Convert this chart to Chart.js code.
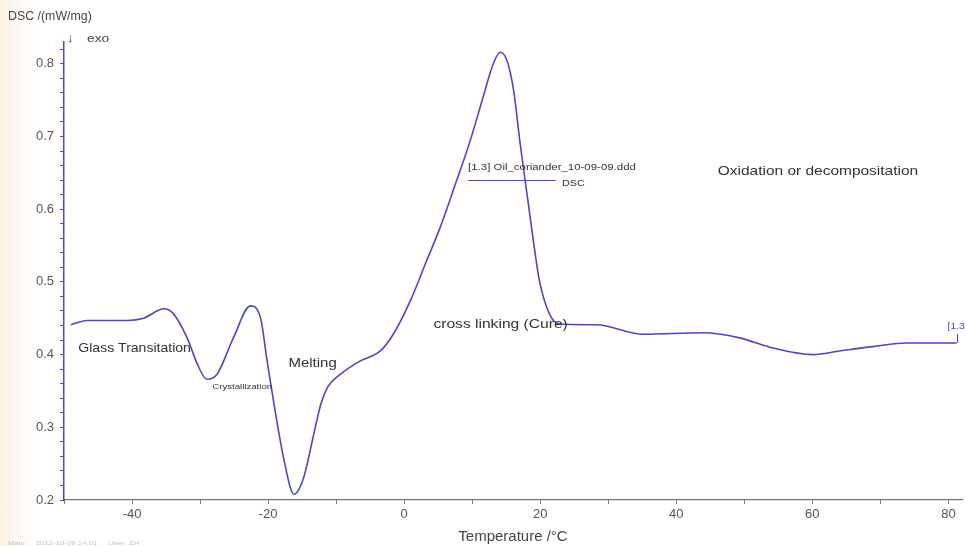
<!DOCTYPE html>
<html>
<head>
<meta charset="utf-8">
<script src="https://cdn.jsdelivr.net/npm/chart.js@4"></script>
<style>
html,body{margin:0;padding:0;background:#fff;}
body{width:965px;height:546px;overflow:hidden;background:linear-gradient(to right,#fbf3e2 0px,#fefbf5 22px,#ffffff 40px);}
#wrap{position:relative;width:965px;height:546px;}
</style>
</head>
<body>
<div id="wrap"><canvas id="c" width="965" height="546"></canvas></div>
<script>
// Temperature (°C)
const temperature = [-49.0,-46.6,-40.7,-38.3,-35.3,-33.9,-31.9,-30.4,-29.0,-27.5,-25.1,-22.6,-21.1,-20.2,-19.2,-17.7,-16.2,-14.8,-13.3,-12.3,-11.2,-9.5,-6.5,-3.5,-1.6,0.9,3.3,5.3,7.7,9.7,11.6,13.1,14.1,15.1,16.1,17.0,18.0,19.0,19.9,21.4,22.9,28.3,35.1,43.9,49.3,54.2,60.1,64.0,68.9,73.9,81.2];
// DSC (mW/mg)
const dsc = [0.441,0.447,0.447,0.450,0.463,0.456,0.423,0.387,0.366,0.373,0.423,0.467,0.450,0.395,0.336,0.257,0.208,0.230,0.290,0.330,0.356,0.372,0.391,0.405,0.428,0.474,0.529,0.575,0.639,0.694,0.754,0.800,0.816,0.805,0.763,0.694,0.625,0.556,0.501,0.455,0.442,0.441,0.428,0.430,0.423,0.409,0.400,0.405,0.411,0.416,0.416];
const xMajorLabels = [-40,-20,0,20,40,60,80];
const yMajorLabels = [0.2,0.3,0.4,0.5,0.6,0.7,0.8];
const notes = [
  {text:'Glass Transitation', x:-47.9, y:0.409, size:13, sx:1.08},
  {text:'Crystallization', x:-28.2, y:0.356, size:8, sx:1.2},
  {text:'Melting', x:-17.0, y:0.388, size:13, sx:1.15},
  {text:'cross linking (Cure)', x:4.3, y:0.442, size:13, sx:1.2},
  {text:'Oxidation or decompositation', x:46.1, y:0.652, size:13, sx:1.19},
  {text:'[1.3] Oil_coriander_10-09-09.ddd', x:9.4, y:0.658, size:9, sx:1.27},
  {text:'DSC', x:23.2, y:0.635, size:9, sx:1.2}
];

const FONT = '"Liberation Sans", Arial, sans-serif';
const pts = temperature.map((t,i)=>({x:t,y:dsc[i]}));

function stretchText(ctx, text, x, y, sx){
  ctx.save();
  ctx.translate(x, y);
  ctx.scale(sx, 1);
  ctx.fillText(text, 0, 0);
  ctx.restore();
}

const extras = {
  id:'extras',
  afterDraw(chart){
    const ctx = chart.ctx, xs = chart.scales.x, ys = chart.scales.y;
    ctx.save();
    ctx.fillStyle = '#333';
    ctx.textBaseline = 'middle';
    ctx.textAlign = 'left';
    notes.forEach(n=>{
      ctx.font = n.size + 'px ' + FONT;
      stretchText(ctx, n.text, xs.getPixelForValue(n.x), ys.getPixelForValue(n.y), n.sx);
    });
    // legend line under file name
    ctx.strokeStyle = '#4848c8';
    ctx.lineWidth = 1;
    const ly = Math.round(ys.getPixelForValue(0.640)) + 0.5;
    ctx.beginPath();
    ctx.moveTo(xs.getPixelForValue(9.4), ly);
    ctx.lineTo(xs.getPixelForValue(22.3), ly);
    ctx.stroke();
    // end marker
    const last = pts[pts.length-1];
    const ex = Math.round(xs.getPixelForValue(last.x)) + 0.5;
    const ey = ys.getPixelForValue(last.y);
    ctx.beginPath();
    ctx.moveTo(ex, ey);
    ctx.lineTo(ex, ey - 9);
    ctx.stroke();
    ctx.fillStyle = '#4848c8';
    ctx.font = '9px ' + FONT;
    stretchText(ctx, '[1.3', ex - 10, ey - 16, 1.15);
    // axis title
    ctx.fillStyle = '#444';
    ctx.font = '12px ' + FONT;
    stretchText(ctx, 'DSC /(mW/mg)', 8, 17, 1.03);
    ctx.font = '13px ' + FONT;
    ctx.fillText('\u2193', 67, 38);
    ctx.font = '11px ' + FONT;
    stretchText(ctx, 'exo', 87, 39, 1.25);
    // footer
    ctx.fillStyle = '#c4c4c4';
    ctx.font = '6px ' + FONT;
    stretchText(ctx, 'Main     2012-10-09 14:01     User: ZH', 8, 543, 1.3);
    ctx.restore();
  }
};

new Chart(document.getElementById('c'), {
  type:'line',
  data:{datasets:[{data:pts, borderColor:'#4a48c8', borderWidth:1.6, pointRadius:0, tension:0.4, cubicInterpolationMode:'monotone', fill:false}]},
  options:{
    responsive:false, animation:false, devicePixelRatio:1,
    layout:{padding:{top:42, right:3, left:0, bottom:0}},
    plugins:{legend:{display:false}, tooltip:{enabled:false}},
    scales:{
      x:{type:'linear', min:-50, max:82,
        afterFit(s){ s.height = 46; },
        border:{display:true, color:'#777', width:1.2},
        grid:{display:true, drawOnChartArea:false, drawTicks:true, tickLength:4, tickColor:'#777'},
        ticks:{stepSize:10, includeBounds:false, autoSkip:false, maxRotation:0, padding:3, color:'#555', font:{family:FONT, size:13},
          callback:(v)=> xMajorLabels.includes(Math.round(v)) && Math.abs(v-Math.round(v))<1e-6 ? String(Math.round(v)) : ''},
        title:{display:true, text:'Temperature /\u00b0C', color:'#444', font:{family:FONT, size:15}, padding:{top:-2,bottom:0}}
      },
      y:{type:'linear', min:0.2, max:0.83,
        afterFit(s){ s.width = 64; },
        border:{display:true, color:'#4a48c8', width:1.5},
        grid:{display:true, drawOnChartArea:false, drawTicks:true, tickLength:4, tickColor:'#4a48c8'},
        ticks:{stepSize:0.02, includeBounds:false, autoSkip:false, padding:6, color:'#555', font:{family:FONT, size:13},
          callback:(v)=>{ const r = Math.round(v*10)/10; return Math.abs(v-r)<1e-6 && yMajorLabels.includes(r) ? r.toFixed(1) : ''; }}
      }
    }
  },
  plugins:[extras]
});
</script>
</body>
</html>
